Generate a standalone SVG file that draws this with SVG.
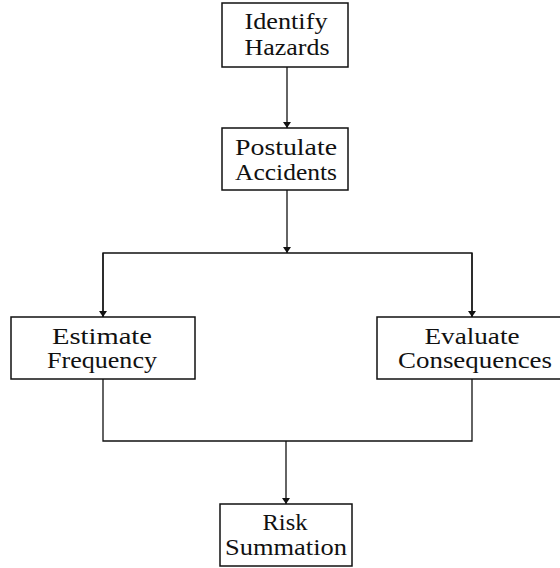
<svg xmlns="http://www.w3.org/2000/svg" width="560" height="568" viewBox="0 0 560 568">
<style>
.box{fill:#fff;stroke:#111;stroke-width:1.5}
.lbl{font-family:"Liberation Serif","Times New Roman",serif;font-size:24px;fill:#111;text-anchor:middle}
.con{fill:none;stroke:#111;stroke-width:1.3}
</style>
<defs>
<marker id="ah" viewBox="0 0 10 10" refX="10" refY="5" markerWidth="6" markerHeight="8" markerUnits="userSpaceOnUse" orient="auto" preserveAspectRatio="none">
<path d="M0,0 L10,5 L0,10 z" fill="#111"/>
</marker>
</defs>
<rect width="560" height="568" fill="#fff"/>
<g id="connectors">
<line class="con" x1="287" y1="67" x2="287" y2="128" marker-end="url(#ah)"/>
<line class="con" x1="287" y1="190" x2="287" y2="253" marker-end="url(#ah)"/>
<polyline class="con" points="103,317 103,253 472,253 472,317"/>
<line class="con" x1="103" y1="253" x2="103" y2="317" marker-end="url(#ah)"/>
<line class="con" x1="472" y1="253" x2="472" y2="317" marker-end="url(#ah)"/>
<polyline class="con" points="103,379 103,441 472,441 472,379"/>
<line class="con" x1="286" y1="441" x2="286" y2="504" marker-end="url(#ah)"/>
</g>
<g id="identify">
<rect class="box" x="222" y="3" width="126" height="64"/>
<text class="lbl" x="286" y="29" textLength="83" lengthAdjust="spacingAndGlyphs">Identify</text>
<text class="lbl" x="287" y="55" textLength="85" lengthAdjust="spacingAndGlyphs">Hazards</text>
</g>
<g id="postulate">
<rect class="box" x="222" y="128" width="126" height="62"/>
<text class="lbl" x="286" y="155" textLength="102" lengthAdjust="spacingAndGlyphs">Postulate</text>
<text class="lbl" x="286" y="180" textLength="102" lengthAdjust="spacingAndGlyphs">Accidents</text>
</g>
<g id="estimate">
<rect class="box" x="11" y="317" width="184" height="62"/>
<text class="lbl" x="102" y="344" textLength="100" lengthAdjust="spacingAndGlyphs">Estimate</text>
<text class="lbl" x="102" y="368" textLength="110" lengthAdjust="spacingAndGlyphs">Frequency</text>
</g>
<g id="evaluate">
<rect class="box" x="377" y="317" width="186" height="62"/>
<text class="lbl" x="472" y="344" textLength="95" lengthAdjust="spacingAndGlyphs">Evaluate</text>
<text class="lbl" x="475" y="368" textLength="154" lengthAdjust="spacingAndGlyphs">Consequences</text>
</g>
<g id="risk">
<rect class="box" x="220" y="504" width="132" height="62"/>
<text class="lbl" x="285" y="530" textLength="45" lengthAdjust="spacingAndGlyphs">Risk</text>
<text class="lbl" x="286" y="555" textLength="122" lengthAdjust="spacingAndGlyphs">Summation</text>
</g>
</svg>
